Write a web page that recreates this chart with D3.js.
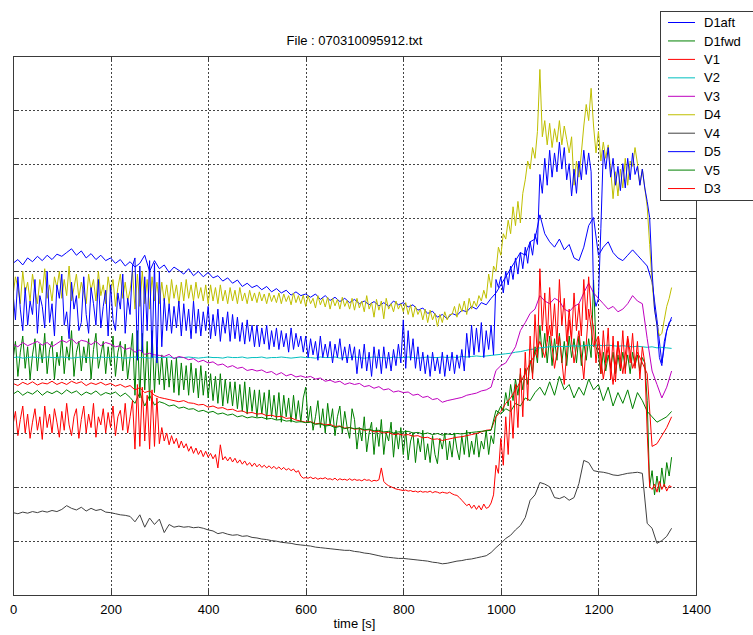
<!DOCTYPE html>
<html>
<head>
<meta charset="utf-8">
<script src="https://cdn.jsdelivr.net/npm/d3@7"></script>
<style>
  html, body { margin: 0; padding: 0; background: #fff; }
  svg { display: block; font-family: "Liberation Sans", Arial, sans-serif; }
</style>
</head>
<body>
<svg id="chart" width="753" height="635"></svg>
<script>
// ---------------- DATA ----------------
const titleText = "File : 070310095912.txt";
const xLabel = "time [s]";
const xTicks = [0, 200, 400, 600, 800, 1000, 1200, 1400];
const yTicks = [0, 1, 2, 3, 4, 5, 6, 7, 8, 9, 10];
const seriesNames = ["D1aft", "D1fwd", "V1", "V2", "V3", "D4", "V4", "D5", "V5", "D3"];

// sample times (s)
const time10 = d3.range(0, 1351, 10);  // 136 samples
const time5 = d3.range(0, 1351, 5);    // 271 samples

const D1aft = [
 6.15,6.22,6.12,6.25,6.18,6.28,6.2,6.3,6.22,6.32,
 6.28,6.35,6.42,6.3,6.38,6.25,6.33,6.22,6.3,6.2,
 6.25,6.15,6.22,6.1,6.18,6.08,6.15,6.3,6.0,6.2,
 6.05,6.12,5.98,6.08,6.02,5.95,6.05,5.92,6.0,5.9,
 5.98,5.88,5.92,5.82,5.88,5.78,5.84,5.72,5.78,5.7,
 5.74,5.66,5.72,5.62,5.68,5.6,5.65,5.56,5.62,5.55,
 5.58,5.52,5.58,5.48,5.55,5.46,5.52,5.44,5.5,5.42,
 5.48,5.4,5.45,5.38,5.44,5.36,5.42,5.35,5.45,5.38,
 5.42,5.34,5.38,5.28,5.32,5.22,5.26,5.15,5.2,5.12,
 5.22,5.18,5.28,5.25,5.35,5.3,5.42,5.38,5.5,5.6,
 5.75,5.9,6.05,6.2,6.35,6.3,6.55,6.6,7.05,6.7,
 6.55,6.45,6.6,6.4,6.5,6.25,6.2,6.45,6.85,7.0,
 6.3,6.45,6.55,6.35,6.25,6.2,6.3,6.4,6.3,6.2,
 6.1,5.8,5.1,4.3,4.9,5.15];

const D1fwd = [
 4.35,4.7,4.05,4.5,4.8,4.2,4.6,4.0,4.45,4.75,
 4.15,4.65,4.3,4.85,4.1,4.55,4.7,4.0,4.5,4.25,
 4.8,4.1,4.6,4.35,4.9,4.05,4.5,4.7,4.15,4.6,
 4.3,4.75,4.0,4.55,4.85,4.2,4.45,4.7,4.1,4.6,
 4.25,4.8,4.05,4.5,4.7,4.15,4.65,4.0,4.4,4.85,
 3.7,4.9,3.65,4.85,3.8,4.7,3.6,4.9,3.75,4.6,
 3.9,4.45,3.8,4.4,3.85,4.35,3.75,4.4,3.7,4.3,
 3.8,4.25,3.7,4.3,3.75,4.2,3.65,4.25,3.7,4.15,
 3.65,4.1,3.6,4.05,3.55,4.1,3.5,4.0,3.55,3.95,
 3.5,3.95,3.45,3.9,3.4,3.95,3.35,3.85,3.4,3.8,
 3.3,3.8,3.35,3.75,3.25,3.8,3.3,3.7,3.25,3.75,
 3.2,3.7,3.3,3.65,3.2,3.7,3.25,3.6,3.2,3.65,
 3.85,3.2,3.5,3.05,3.3,3.6,3.1,3.45,3.0,3.55,
 3.15,3.45,2.95,3.3,3.5,3.0,3.4,3.1,2.9,3.45,
 3.25,2.7,3.1,2.85,3.3,2.65,3.0,3.2,2.6,3.1,
 2.75,3.25,2.6,3.0,2.85,3.2,2.55,3.05,2.7,3.1,
 2.6,3.05,2.5,2.85,3.0,2.45,2.9,2.65,3.05,2.5,
 2.8,2.45,2.95,2.6,2.43,2.9,2.7,3.0,2.5,2.85,
 2.55,3.0,2.7,2.5,2.95,2.6,3.05,2.55,2.85,2.6,
 3.0,2.55,2.85,2.7,3.05,2.6,2.95,2.8,3.3,3.4,
 3.5,3.4,3.75,3.5,3.9,3.6,4.0,3.7,4.1,3.8,
 4.2,3.9,4.35,4.1,4.6,4.3,5.0,4.4,4.85,4.3,
 4.8,4.25,4.75,4.35,4.85,4.3,4.7,4.25,4.8,4.4,
 4.75,4.3,4.8,4.25,4.7,4.35,4.75,4.4,5.84,4.6,
 4.45,4.1,4.5,4.15,4.45,4.2,4.5,4.1,4.45,4.15,
 4.5,4.2,4.45,4.1,4.5,4.25,4.45,4.15,4.4,4.3,
 3.6,2.0,2.3,1.85,2.2,1.9,2.35,2.0,2.45,2.2,2.55];

const V1 = [
 3.92,3.88,3.94,3.9,3.95,3.89,3.93,3.91,3.96,3.9,
 3.94,3.9,3.96,3.92,3.95,3.88,3.93,3.9,3.94,3.89,
 3.92,3.87,3.9,3.85,3.88,3.8,3.84,3.75,3.78,3.7,
 3.66,3.64,3.62,3.6,3.58,3.6,3.56,3.55,3.52,3.53,
 3.48,3.5,3.46,3.47,3.43,3.44,3.4,3.41,3.37,3.38,
 3.35,3.36,3.32,3.33,3.3,3.31,3.27,3.28,3.24,3.22,
 3.2,3.21,3.17,3.18,3.15,3.16,3.12,3.13,3.09,3.1,
 3.07,3.08,3.05,3.06,3.02,3.03,3.0,3.01,2.97,2.98,
 2.96,2.97,2.94,2.95,2.91,2.92,2.88,2.89,2.86,2.88,
 2.9,2.92,2.93,2.95,2.97,2.99,3.02,3.05,3.06,3.3,
 3.4,3.55,3.65,3.8,3.95,4.1,4.3,4.45,4.7,4.4,
 5.0,4.2,4.8,3.9,5.1,4.3,4.9,4.0,5.3,4.6,
 4.8,4.0,4.6,3.9,4.7,4.1,4.8,4.2,4.5,4.3,
 4.1,2.75,2.8,2.95,3.1,3.3];

const V2 = [
 4.4,4.41,4.39,4.4,4.41,4.4,4.39,4.41,4.4,4.4,
 4.41,4.4,4.39,4.4,4.41,4.4,4.4,4.39,4.41,4.4,
 4.4,4.41,4.4,4.39,4.4,4.41,4.4,4.4,4.39,4.41,
 4.4,4.4,4.41,4.39,4.4,4.4,4.41,4.4,4.39,4.4,
 4.41,4.4,4.4,4.39,4.41,4.4,4.4,4.41,4.39,4.4,
 4.4,4.41,4.39,4.4,4.4,4.41,4.4,4.39,4.4,4.41,
 4.4,4.4,4.39,4.41,4.4,4.4,4.41,4.39,4.4,4.4,
 4.41,4.4,4.39,4.4,4.41,4.4,4.4,4.39,4.41,4.4,
 4.4,4.41,4.4,4.39,4.4,4.41,4.4,4.4,4.41,4.4,
 4.41,4.4,4.42,4.41,4.42,4.43,4.42,4.43,4.44,4.45,
 4.46,4.47,4.48,4.5,4.51,4.53,4.55,4.56,4.58,4.59,
 4.6,4.6,4.61,4.6,4.61,4.62,4.61,4.62,4.63,4.62,
 4.63,4.62,4.63,4.62,4.61,4.62,4.61,4.6,4.61,4.6,
 4.59,4.6,4.58,4.59,4.58,4.57];

const V3 = [
 4.65,4.6,4.68,4.62,4.66,4.7,4.63,4.68,4.6,4.66,
 4.72,4.68,4.75,4.66,4.72,4.7,4.64,4.7,4.62,4.68,
 4.65,4.6,4.62,4.55,4.58,4.5,4.54,4.46,4.48,4.45,
 4.44,4.42,4.46,4.38,4.42,4.4,4.36,4.38,4.32,4.35,
 4.3,4.32,4.26,4.28,4.22,4.25,4.2,4.22,4.16,4.18,
 4.15,4.17,4.12,4.14,4.08,4.12,4.06,4.09,4.04,4.06,
 4.03,4.05,4.0,4.02,3.96,3.98,3.94,3.96,3.9,3.93,
 3.9,3.92,3.86,3.88,3.83,3.86,3.8,3.82,3.76,3.78,
 3.75,3.76,3.7,3.72,3.66,3.68,3.62,3.64,3.57,3.6,
 3.62,3.64,3.66,3.7,3.72,3.74,3.78,3.8,3.85,4.16,
 4.25,4.3,4.45,4.6,4.9,5.05,5.22,5.3,5.55,5.45,
 5.4,5.5,5.45,5.3,5.25,5.35,5.4,5.6,5.78,5.6,
 5.5,5.4,5.3,5.35,5.25,5.3,5.4,5.55,5.45,5.4,
 4.75,4.15,3.9,3.65,3.85,4.15];

const D4 = [
 5.55,5.9,5.7,5.4,6.0,5.6,5.8,5.45,5.95,5.65,
 5.4,5.85,5.6,6.05,5.5,5.75,5.45,5.9,5.7,6.0,
 5.5,5.85,5.55,6.1,5.45,5.7,5.95,5.5,5.8,5.6,
 5.4,5.95,5.65,5.85,5.45,6.0,5.55,5.75,5.4,5.9,
 5.6,5.85,5.35,5.7,5.95,5.5,5.8,5.45,5.65,6.0,
 5.3,5.95,5.35,6.0,5.4,5.85,5.3,5.9,5.45,5.8,
 5.4,5.8,5.45,5.75,5.4,5.85,5.5,5.75,5.4,5.8,
 5.45,5.85,5.5,5.75,5.45,5.8,5.5,5.7,5.45,5.75,
 5.4,5.75,5.45,5.7,5.4,5.75,5.45,5.65,5.4,5.7,
 5.45,5.65,5.4,5.7,5.45,5.6,5.4,5.65,5.45,5.6,
 5.42,5.62,5.45,5.58,5.4,5.6,5.44,5.56,5.42,5.6,
 5.4,5.58,5.44,5.55,5.38,5.6,5.42,5.55,5.4,5.56,
 5.35,5.55,5.4,5.5,5.32,5.55,5.38,5.5,5.34,5.52,
 5.3,5.5,5.36,5.48,5.3,5.52,5.35,5.46,5.3,5.5,
 5.28,5.5,5.32,5.45,5.25,5.55,5.3,5.42,5.15,5.48,
 5.28,5.45,5.12,5.5,5.3,5.4,5.25,5.45,5.3,5.4,
 5.25,5.42,5.2,5.38,5.15,5.35,5.2,5.3,5.1,5.3,
 5.05,5.28,5.1,5.22,4.98,5.2,5.05,5.25,5.1,5.2,
 5.2,5.35,5.15,5.4,5.25,5.45,5.2,5.5,5.3,5.45,
 5.35,5.55,5.45,5.65,5.5,5.95,5.7,6.1,6.0,6.45,
 6.3,6.7,6.6,6.95,6.7,7.2,6.85,7.3,6.9,7.45,
 7.7,8.05,7.9,8.3,8.1,8.6,9.75,8.5,8.8,8.35,
 8.75,8.3,8.65,8.4,8.8,8.35,8.7,8.45,8.2,8.5,
 7.6,8.05,7.75,8.2,8.7,9.1,8.8,9.4,8.7,8.2,
 8.6,8.05,8.4,8.1,8.35,7.9,7.35,7.85,7.4,7.9,
 7.55,8.1,7.6,8.05,7.95,8.3,8.0,7.6,7.9,7.55,
 7.2,6.5,5.8,5.3,5.0,4.8,4.85,5.1,5.35,5.5,5.7];

const V4 = [
 1.52,1.5,1.53,1.51,1.54,1.52,1.55,1.53,1.56,1.54,
 1.58,1.65,1.6,1.57,1.62,1.55,1.6,1.56,1.58,1.53,
 1.52,1.5,1.48,1.47,1.45,1.35,1.48,1.25,1.42,1.3,
 1.4,1.15,1.3,1.25,1.27,1.25,1.26,1.24,1.25,1.23,
 1.2,1.18,1.13,1.15,1.12,1.1,1.11,1.08,1.09,1.06,
 1.05,1.03,1.02,1.0,0.99,0.97,0.96,0.95,0.93,0.92,
 0.91,0.9,0.88,0.87,0.86,0.85,0.84,0.83,0.82,0.82,
 0.8,0.79,0.77,0.76,0.74,0.72,0.7,0.69,0.68,0.67,
 0.67,0.66,0.65,0.64,0.63,0.62,0.6,0.59,0.57,0.58,
 0.6,0.62,0.63,0.65,0.66,0.68,0.7,0.72,0.78,0.87,
 0.95,1.04,1.1,1.2,1.28,1.43,1.75,1.85,2.08,2.05,
 2.0,1.8,1.78,1.82,1.75,1.8,2.06,2.49,2.45,2.3,
 2.28,2.27,2.25,2.22,2.21,2.23,2.25,2.26,2.27,2.25,
 1.32,1.23,0.95,1.0,1.08,1.23];

const D5 = [
 5.6,5.1,5.9,5.3,4.9,5.7,5.0,5.45,5.2,5.85,
 4.85,5.55,5.35,4.95,6.0,5.05,5.4,4.8,5.75,5.5,
 5.95,5.0,5.25,4.75,5.8,5.3,5.55,4.9,5.05,5.9,
 5.2,4.85,5.7,5.4,5.0,5.85,4.95,5.35,5.65,4.8,
 5.75,5.1,4.9,5.6,5.3,5.95,4.85,5.5,5.2,6.1,
 6.25,4.35,6.1,4.5,5.9,4.9,6.2,4.4,6.15,4.3,
 6.0,4.6,5.5,4.9,5.4,4.85,5.35,4.95,5.45,4.8,
 5.4,4.9,5.3,4.75,5.45,4.85,5.3,4.8,5.25,4.9,
 5.35,4.75,5.2,4.8,5.3,4.7,5.15,4.85,5.25,4.7,
 5.2,4.75,5.15,4.7,5.05,4.65,5.1,4.7,5.0,4.6,
 5.0,4.6,4.95,4.65,5.0,4.55,4.9,4.6,4.95,4.55,
 4.9,4.6,4.85,4.5,4.95,4.55,4.85,4.6,4.8,4.5,
 4.8,4.4,4.75,4.45,4.7,4.35,4.8,4.4,4.65,4.4,
 4.7,4.3,4.65,4.4,4.75,4.35,4.6,4.3,4.65,4.35,
 4.6,4.1,4.55,4.2,4.65,4.15,4.5,4.05,4.6,4.2,
 4.55,4.1,4.6,4.2,4.5,4.15,4.55,4.25,4.65,4.3,
 5.1,4.2,4.9,4.35,4.75,4.2,4.6,4.15,4.5,4.1,
 4.45,4.05,4.5,4.15,4.4,4.1,4.5,4.05,4.45,4.15,
 4.5,4.1,4.45,4.2,4.55,4.15,4.85,4.4,5.0,4.45,
 4.95,4.5,5.05,4.4,4.9,4.55,5.0,4.45,5.85,5.7,
 5.9,5.6,6.0,5.75,6.1,5.85,6.25,5.95,6.35,6.05,
 6.45,6.15,6.55,6.3,6.7,6.5,7.8,7.45,8.1,7.6,
 8.25,7.75,8.2,7.85,8.4,7.9,8.3,7.7,8.0,7.4,
 7.9,7.45,8.05,7.7,8.25,7.8,8.2,7.85,5.6,5.35,
 5.5,6.8,8.25,7.9,8.3,7.75,8.1,7.6,7.95,7.5,
 8.0,7.55,8.1,7.7,8.2,7.8,7.95,7.6,7.9,7.55,
 7.3,7.0,6.0,5.3,5.0,4.4,4.25,4.7,4.9,5.05,5.1];

const V5 = [
 3.72,3.78,3.7,3.76,3.72,3.79,3.7,3.77,3.73,3.78,
 3.72,3.8,3.74,3.78,3.7,3.76,3.72,3.78,3.7,3.75,
 3.72,3.76,3.68,3.74,3.66,3.55,3.75,3.5,3.7,3.52,
 3.58,3.55,3.5,3.52,3.46,3.48,3.44,3.45,3.4,3.42,
 3.38,3.4,3.35,3.37,3.33,3.35,3.3,3.32,3.28,3.3,
 3.28,3.29,3.26,3.27,3.24,3.25,3.22,3.23,3.2,3.21,
 3.19,3.2,3.16,3.17,3.13,3.14,3.1,3.12,3.08,3.1,
 3.08,3.09,3.06,3.07,3.04,3.05,3.02,3.03,3.0,3.02,
 3.02,3.03,3.0,3.01,2.98,3.0,2.97,2.99,2.96,2.98,
 2.97,2.99,2.98,3.0,3.01,3.02,3.03,3.04,3.05,3.42,
 3.35,3.45,3.4,3.55,3.5,3.65,3.6,3.75,3.85,3.7,
 3.95,3.7,4.05,3.8,3.9,3.65,3.85,3.7,4.0,3.8,
 3.9,3.6,3.85,3.5,3.75,3.55,3.8,3.45,3.75,3.6,
 3.4,3.3,3.2,3.25,3.3,3.4];

const D3 = [
 3.15,3.4,2.95,3.25,3.5,3.0,3.35,2.9,3.2,3.45,
 3.05,3.3,2.88,3.5,3.1,3.35,3.0,3.45,3.2,2.92,
 3.4,3.05,3.55,3.15,2.95,3.3,3.45,2.9,3.25,3.5,
 3.0,3.35,3.1,3.55,2.92,3.3,3.15,3.45,3.0,3.38,
 3.1,3.5,2.95,3.3,3.42,3.05,3.55,3.0,3.3,3.6,
 2.7,3.9,2.75,3.85,2.85,3.7,2.7,3.8,2.75,3.65,
 2.8,3.1,2.85,3.0,2.78,2.95,2.8,2.9,2.72,2.85,
 2.72,2.8,2.66,2.75,2.62,2.72,2.6,2.68,2.56,2.66,
 2.55,2.62,2.52,2.6,2.35,2.78,2.5,2.56,2.48,2.55,
 2.46,2.53,2.44,2.5,2.42,2.48,2.4,2.45,2.38,2.44,
 2.37,2.42,2.36,2.4,2.35,2.39,2.34,2.38,2.33,2.37,
 2.32,2.36,2.31,2.34,2.3,2.33,2.27,2.3,2.2,2.16,
 2.17,2.16,2.18,2.15,2.17,2.14,2.16,2.15,2.17,2.14,
 2.15,2.13,2.16,2.12,2.15,2.13,2.14,2.12,2.15,2.12,
 2.14,2.12,2.13,2.11,2.14,2.12,2.13,2.1,2.12,2.11,
 2.13,2.35,2.1,2.05,2.02,2.0,1.98,1.96,1.95,1.94,
 1.93,1.94,1.92,1.93,1.91,1.92,1.9,1.92,1.9,1.91,
 1.9,1.92,1.89,1.91,1.9,1.88,1.9,1.89,1.88,1.9,
 1.87,1.85,1.84,1.8,1.75,1.7,1.65,1.68,1.6,1.66,
 1.58,1.65,1.57,1.68,1.6,1.62,1.7,1.85,2.4,2.25,
 2.9,2.4,3.3,2.6,3.6,2.9,3.9,3.1,4.2,3.3,
 4.5,3.6,4.8,4.0,5.2,4.4,6.05,4.9,5.6,4.7,
 5.7,4.8,5.4,4.65,5.85,5.0,5.5,4.7,5.3,4.75,
 5.6,4.9,5.4,4.8,5.85,5.1,5.9,5.2,4.95,4.3,
 4.8,4.1,4.9,4.3,4.95,4.0,4.8,3.95,4.7,4.2,
 4.9,4.1,4.75,4.3,4.85,4.2,4.7,4.0,4.6,4.3,
 3.0,2.0,1.95,2.05,1.9,2.1,1.95,2.05,1.92,2.02,2.0];

const seriesColors = ["#0000ff", "#008000", "#ff0000", "#00bfbf", "#bf00bf",
                      "#bfbf00", "#404040", "#0000ff", "#008000", "#ff0000"];
const seriesValues = [D1aft, D1fwd, V1, V2, V3, D4, V4, D5, V5, D3];

// ---------------- CHART ----------------
const W = 753, H = 635;
const plot = { left: 13, right: 696, top: 56, bottom: 594.5 };

const svg = d3.select("#chart");
svg.append("rect").attr("width", W).attr("height", H).attr("fill", "#fff");

const x = d3.scaleLinear().domain([0, 1400]).range([plot.left, plot.right]);
const y = d3.scaleLinear().domain([0, 10]).range([plot.bottom, plot.top]);

const axisColor = "#3a3a3a";

// grid
const grid = svg.append("g").attr("stroke", "#444").attr("stroke-width", 1)
  .attr("stroke-dasharray", "2,2").attr("shape-rendering", "crispEdges");
xTicks.filter(v => v > 0 && v < 1400).forEach(v => {
  grid.append("line").attr("x1", Math.round(x(v)) + 0.5).attr("x2", Math.round(x(v)) + 0.5)
    .attr("y1", plot.top).attr("y2", plot.bottom);
});
yTicks.filter(v => v > 0 && v < 10).forEach(v => {
  grid.append("line").attr("y1", Math.round(y(v)) + 0.5).attr("y2", Math.round(y(v)) + 0.5)
    .attr("x1", plot.left).attr("x2", plot.right);
});

// series
svg.append("clipPath").attr("id", "clip").append("rect")
  .attr("x", plot.left).attr("y", plot.top)
  .attr("width", plot.right - plot.left).attr("height", plot.bottom - plot.top);

const lineGen = d3.line().x(d => x(d[0])).y(d => y(d[1]));
const gLines = svg.append("g").attr("clip-path", "url(#clip)");
seriesValues.forEach((vals, i) => {
  const times = vals.length === time5.length ? time5 : time10;
  const pts = vals.map((v, k) => [times[k], v]);
  gLines.append("path").datum(pts)
    .attr("d", lineGen)
    .attr("fill", "none")
    .attr("stroke", seriesColors[i])
    .attr("stroke-width", 1)
    .attr("stroke-linejoin", "miter");
});

// axes with D3 axis generators (ticks inward)
const xAxisB = d3.axisBottom(x).tickValues(xTicks).tickSize(-5).tickPadding(10).tickFormat(d3.format("d"));
const xAxisT = d3.axisTop(x).tickValues(xTicks).tickSize(-5).tickFormat("");
const yAxisL = d3.axisLeft(y).tickValues(yTicks).tickSize(-5).tickFormat("");
const yAxisR = d3.axisRight(y).tickValues(yTicks).tickSize(-5).tickFormat("");

function styleAxis(g) {
  g.selectAll("path").attr("stroke", axisColor).attr("stroke-width", 1);
  g.selectAll("line").attr("stroke", axisColor);
  g.selectAll("text").attr("fill", "#000").style("font-size", "13px")
    .style("font-family", "'Liberation Sans', Arial, sans-serif");
  g.attr("shape-rendering", "crispEdges");
}
svg.append("g").attr("transform", `translate(0,${plot.bottom})`).call(xAxisB).call(styleAxis);
svg.append("g").attr("transform", `translate(0,${plot.top})`).call(xAxisT).call(styleAxis);
svg.append("g").attr("transform", `translate(${plot.left},0)`).call(yAxisL).call(styleAxis);
svg.append("g").attr("transform", `translate(${plot.right},0)`).call(yAxisR).call(styleAxis);

// title & label
svg.append("text").attr("x", (plot.left + plot.right) / 2).attr("y", 45)
  .attr("text-anchor", "middle").style("font-size", "13px").text(titleText);
svg.append("text").attr("x", (plot.left + plot.right) / 2).attr("y", 628)
  .attr("text-anchor", "middle").style("font-size", "13px").text(xLabel);

// legend
const lg = svg.append("g");
lg.append("rect").attr("x", 660.5).attr("y", 11.5).attr("width", 120).attr("height", 189)
  .attr("fill", "#fff").attr("stroke", axisColor).attr("stroke-width", 1);
seriesNames.forEach((name, i) => {
  const yy = 22.5 + i * 18.45;
  lg.append("line").attr("x1", 668).attr("x2", 695).attr("y1", yy).attr("y2", yy)
    .attr("stroke", seriesColors[i]).attr("stroke-width", 1);
  lg.append("text").attr("x", 704).attr("y", yy).attr("dy", "0.35em")
    .style("font-size", "13px").text(name);
});
</script>
</body>
</html>
